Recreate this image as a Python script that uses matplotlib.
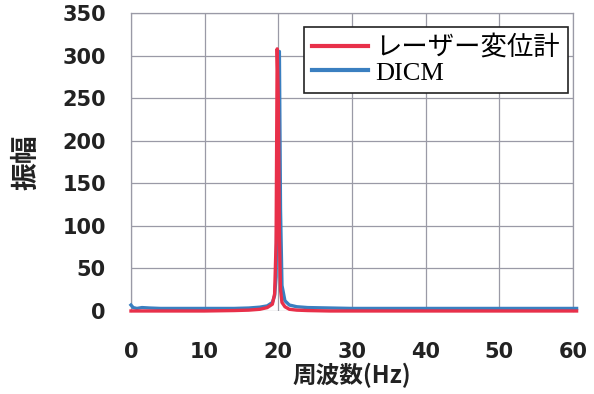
import numpy as np
import matplotlib
matplotlib.use("Agg")
import matplotlib.pyplot as plt
from matplotlib.font_manager import FontProperties

# frequency (Hz) sample points and amplitude
freq = [0, 0.3, 0.8, 1.5, 2.5, 4, 6, 10, 14, 16, 17.5, 18.5, 19.2, 19.5, 19.7,
        19.85, 20.0, 20.15, 20.3, 20.5, 20.9, 21.5, 22.5, 24, 27, 30, 40, 50, 60.5]
laser = [0, 0, 0, 0, 0, 0, 0, 0, 0.5, 1, 2, 4, 8, 20, 80,
         308, 250, 90, 25, 10, 5, 2, 1, 0.5, 0, 0, 0, 0, 0]
dicm = [7, 4, 3, 4, 3.5, 3, 3, 3, 3, 3.5, 4.5, 6, 10, 18, 40,
        150, 300, 305, 120, 30, 12, 7, 5, 4, 3.5, 3, 3, 3, 3]

red = "#e8304a"
blue = "#3a7fc0"
grid_col = "#9a9aa6"

fig = plt.figure(figsize=(5.94, 3.94), dpi=100)
ax = fig.add_axes([0.2205, 0.2107, 0.744, 0.756])

ax.plot(freq, dicm, color=blue, lw=2.4, label="DICM", clip_on=False, zorder=3)
ax.plot(freq, laser, color=red, lw=2.4, label="レーザー変位計", clip_on=False, zorder=4)

ax.set_xlim(0, 60)
ax.set_ylim(0, 350)
ax.set_xticks(np.arange(0, 61, 10))
ax.set_yticks(np.arange(0, 351, 50))
ax.grid(True, color=grid_col, lw=0.9)
for s in ax.spines.values():
    s.set_color(grid_col)
    s.set_linewidth(0.9)
ax.spines["bottom"].set_visible(False)
ax.tick_params(length=0, labelsize=15, colors="#222222")
ax.tick_params(axis="x", pad=22)
ax.tick_params(axis="y", pad=18)
for lab in ax.get_xticklabels() + ax.get_yticklabels():
    lab.set_fontweight("bold")

jp_bold = FontProperties(family=["Noto Sans CJK JP"], weight="bold", size=17)
ax.set_xlabel("周波数(Hz)", fontproperties=jp_bold, labelpad=1, color="#222222")
ax.set_ylabel("振幅", family=["Noto Sans CJK JP"], fontweight="bold", fontsize=20,
              labelpad=16, color="#222222")

handles, labels = ax.get_legend_handles_labels()
leg = ax.legend(handles[::-1], labels[::-1], loc="upper right",
                bbox_to_anchor=(0.989, 0.953), borderaxespad=0,
                prop=FontProperties(family=["Liberation Serif", "Noto Sans CJK JP"], size=19),
                frameon=True, fancybox=False, edgecolor="#222222",
                handlelength=2.1, handletextpad=0.3, borderpad=0.3, labelspacing=0.05)
leg.get_frame().set_linewidth(1.2)
leg.get_frame().set_alpha(1)
for line in leg.get_lines():
    line.set_linewidth(3)

fig.savefig("out.png", dpi=100)
